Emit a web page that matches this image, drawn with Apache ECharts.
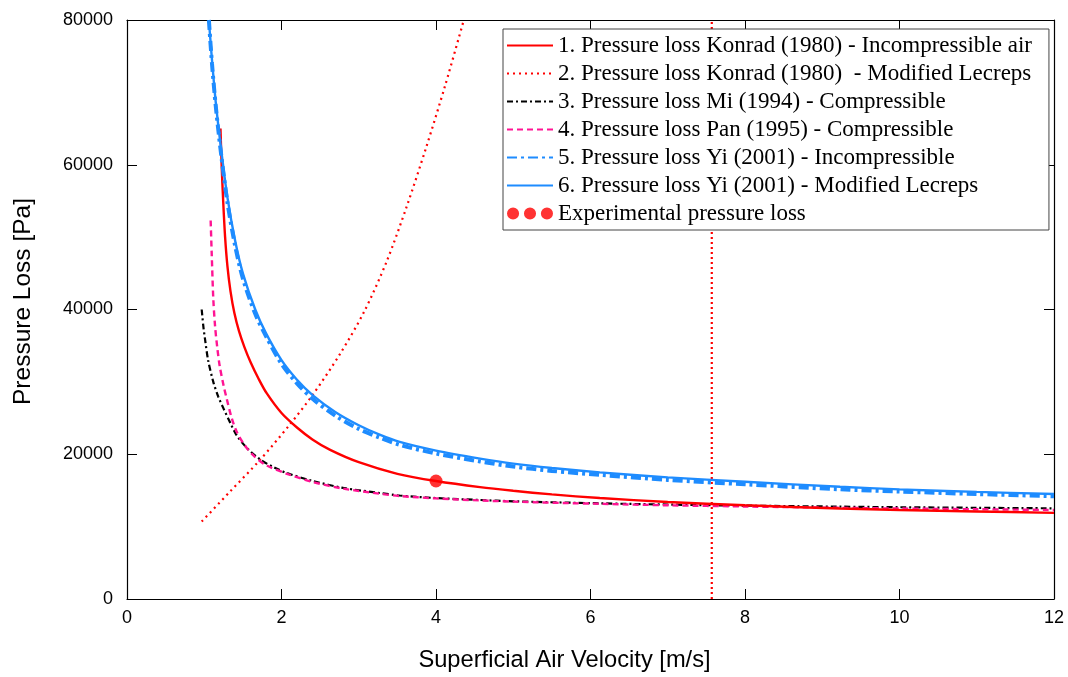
<!DOCTYPE html>
<html>
<head>
<meta charset="utf-8">
<script src="https://cdn.jsdelivr.net/npm/echarts@6/dist/echarts.min.js"></script>
<style>
html,body{margin:0;padding:0;background:#fff;}
#chart{width:1068px;height:677px;}
</style>
</head>
<body>
<div id="chart"></div>
<script>
// ---- Data ----
const seriesNames = [
  '1. Pressure loss Konrad (1980) - Incompressible air',
  '2. Pressure loss Konrad (1980)  - Modified Lecreps',
  '3. Pressure loss Mi (1994) - Compressible',
  '4. Pressure loss Pan (1995) - Compressible',
  '5. Pressure loss Yi (2001) - Incompressible',
  '6. Pressure loss Yi (2001) - Modified Lecreps',
  'Experimental pressure loss'
];
const xTicks = [0, 2, 4, 6, 8, 10, 12];
const yTicks = [0, 20000, 40000, 60000, 80000];

const konradIncX = [1.21, 1.225, 1.245, 1.27, 1.3, 1.34, 1.39, 1.45, 1.52, 1.6, 1.7, 1.81, 2.0, 2.2, 2.4, 2.63, 3.0, 3.5, 4.0, 4.57, 5.0, 5.5, 6.12, 7.0, 8.0, 9.23, 10.0, 11.0, 12.0];
const konradIncY = [65000, 60000, 55000, 50000, 46000, 42500, 39500, 37000, 34800, 32700, 30500, 28400, 25700, 23700, 22050, 20600, 18900, 17300, 16300, 15450, 14950, 14450, 13950, 13400, 12950, 12500, 12300, 12100, 11900];

const konradModX = [0.967, 1.33, 1.72, 2.1, 2.41, 2.76, 3.07, 3.36, 3.62, 3.87, 4.12, 4.36];
const konradModY = [10700, 14800, 19200, 24000, 28300, 33900, 39700, 46600, 54200, 62300, 71000, 80000];

const miX = [0.967, 0.99, 1.01, 1.05, 1.117, 1.18, 1.25, 1.33, 1.42, 1.55, 1.72, 1.9, 2.07, 2.41, 2.8, 3.27, 3.53, 4.0, 4.57, 5.0, 6.12, 7.0, 8.0, 9.23, 10.0, 11.0, 12.0];
const miY = [40000, 37500, 35900, 33000, 30000, 28000, 26300, 24500, 22600, 20900, 19300, 18200, 17400, 16300, 15350, 14650, 14300, 13950, 13680, 13500, 13220, 13050, 12900, 12760, 12680, 12600, 12530];

const panX = [1.083, 1.096, 1.117, 1.14, 1.17, 1.2, 1.25, 1.29, 1.35, 1.42, 1.52, 1.63, 1.8, 2.07, 2.41, 2.8, 3.27, 3.53, 4.0, 4.57, 5.0, 6.12, 7.0, 8.0, 9.23, 10.0, 11.0, 12.0];
const panY = [52300, 47900, 41500, 37700, 34600, 32200, 29500, 27700, 25200, 23100, 21300, 19900, 18500, 17300, 16150, 15250, 14550, 14230, 13900, 13620, 13450, 13150, 12950, 12780, 12600, 12500, 12400, 12300];

const yiX = [1.06, 1.1, 1.15, 1.22, 1.3, 1.4, 1.5, 1.66, 1.8, 2.0, 2.2, 2.41, 2.7, 3.0, 3.27, 3.53, 4.0, 4.57, 5.0, 5.5, 6.12, 7.0, 8.0, 9.23, 10.0, 11.0, 12.0];
const yiIncY = [80000, 74000, 68000, 61300, 54800, 48800, 44300, 39400, 36300, 32500, 29800, 27600, 25300, 23500, 22300, 21300, 20100, 19000, 18300, 17700, 17150, 16450, 15850, 15150, 14850, 14500, 14200];
const yiModY = [80000, 74500, 68500, 62000, 55500, 49500, 45000, 40000, 36700, 33000, 30300, 28100, 25800, 24000, 22700, 21700, 20500, 19400, 18700, 18100, 17500, 16800, 16200, 15500, 15150, 14800, 14500];

const expX = [4.0];
const expY = [16300];

const limitX = [7.57, 7.57];
const limitY = [0, 80000];

// ---- Helpers ----
function pairs(xs, ys) { return xs.map((x, i) => [x, ys[i]]); }

const RED = '#ff0000';
const BLUE = '#1e8cff';
const PINK = '#ff1493';
const BLACK = '#000000';

const sansFont = '"Liberation Sans", Arial, sans-serif';
const serifFont = '"Liberation Serif", "Times New Roman", serif';

const chart = echarts.init(document.getElementById('chart'), null, {renderer: 'canvas'});

const threeDots = 'path://M0,5A5,5 0 1,1 10,5A5,5 0 1,1 0,5Z M14,5A5,5 0 1,1 24,5A5,5 0 1,1 14,5Z M28,5A5,5 0 1,1 38,5A5,5 0 1,1 28,5Z';

const axisCommon = {
  type: 'value',
  axisLine: {show: true, onZero: false, lineStyle: {color: '#000', width: 1.2}},
  axisTick: {show: true, inside: true, length: 10, lineStyle: {color: '#000', width: 1}},
  splitLine: {show: false}
};

const legendData = seriesNames.slice(0, 6).map(n => ({name: n, itemStyle: {opacity: 0}}))
  .concat([{name: seriesNames[6], icon: threeDots}]);

const option = {
  animation: false,
  backgroundColor: '#fff',
  grid: {left: 127, right: 14, top: 20, bottom: 76, containLabel: false},
  legend: {
    orient: 'vertical',
    left: 503,
    top: 29,
    padding: [5, 17, 5, 3],
    itemWidth: 46,
    itemHeight: 14,
    itemGap: 5,
    backgroundColor: '#fff',
    borderColor: '#444',
    borderWidth: 1,
    borderRadius: 0,
    selectedMode: false,
    textStyle: {fontFamily: serifFont, fontSize: 23, color: '#000'},
    data: legendData
  },
  xAxis: [
    Object.assign({}, axisCommon, {
      position: 'bottom', min: xTicks[0], max: xTicks[xTicks.length - 1], interval: 2,
      axisLabel: {show: true, margin: 10, fontFamily: sansFont, fontSize: 18, color: '#000'},
      name: 'Superficial Air Velocity [m/s]',
      nameLocation: 'middle', nameGap: 49,
      nameTextStyle: {fontFamily: sansFont, fontSize: 23.7, color: '#000', padding: [0, 52, 0, 0]}
    }),
    Object.assign({}, axisCommon, {
      position: 'top', min: xTicks[0], max: xTicks[xTicks.length - 1], interval: 2,
      axisLabel: {show: false}
    })
  ],
  yAxis: [
    Object.assign({}, axisCommon, {
      position: 'left', min: yTicks[0], max: yTicks[yTicks.length - 1], interval: 20000,
      axisLabel: {show: true, margin: 14, fontFamily: sansFont, fontSize: 18, color: '#000',
        formatter: v => String(v)},
      name: 'Pressure Loss [Pa]',
      nameLocation: 'middle', nameGap: 91,
      nameTextStyle: {fontFamily: sansFont, fontSize: 24.5, color: '#000', padding: [0, 0, 0, 16]}
    }),
    Object.assign({}, axisCommon, {
      position: 'right', min: yTicks[0], max: yTicks[yTicks.length - 1], interval: 20000,
      axisLabel: {show: false}
    })
  ],
  series: [
    {
      name: 'limit', type: 'line', data: pairs(limitX, limitY), symbol: 'none',
      lineStyle: {color: RED, width: 2.2, type: [2, 3]}, z: 1, silent: true
    },
    {
      name: seriesNames[1], type: 'line', data: pairs(konradModX, konradModY), symbol: 'none', smooth: 0.3,
      lineStyle: {color: RED, width: 2.2, type: [2, 4]}, itemStyle: {color: RED, opacity: 0}, z: 2
    },
    {
      name: seriesNames[2], type: 'line', data: pairs(miX, miY), symbol: 'none', smooth: 0.3,
      lineStyle: {color: BLACK, width: 2.2, type: [6, 3, 2, 3]}, itemStyle: {color: BLACK, opacity: 0}, z: 3
    },
    {
      name: seriesNames[3], type: 'line', data: pairs(panX, panY), symbol: 'none', smooth: 0.3,
      lineStyle: {color: PINK, width: 2.4, type: [6, 4]}, itemStyle: {color: PINK, opacity: 0}, z: 4
    },
    {
      name: seriesNames[0], type: 'line', data: pairs(konradIncX, konradIncY), symbol: 'none', smooth: 0.3,
      lineStyle: {color: RED, width: 2.4, type: 'solid'}, itemStyle: {color: RED, opacity: 0}, z: 5
    },
    {
      name: seriesNames[4], type: 'line', data: pairs(yiX, yiIncY), symbol: 'none', smooth: 0.3,
      lineStyle: {color: BLUE, width: 4, type: [10, 4, 3, 4]}, itemStyle: {color: BLUE, opacity: 0}, z: 6
    },
    {
      name: seriesNames[5], type: 'line', data: pairs(yiX, yiModY), symbol: 'none', smooth: 0.3,
      lineStyle: {color: BLUE, width: 2.4, type: 'solid'}, itemStyle: {color: BLUE, opacity: 0}, z: 7
    },
    {
      name: seriesNames[6], type: 'scatter', data: pairs(expX, expY), symbol: 'circle', symbolSize: 13,
      itemStyle: {color: RED}, z: 10
    }
  ]
};

chart.setOption(option);
</script>
</body>
</html>
